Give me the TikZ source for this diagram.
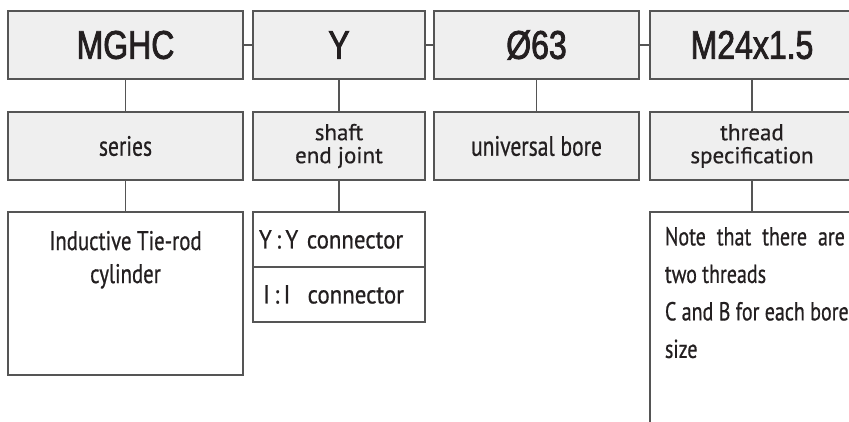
\documentclass[tikz,border=0pt]{standalone}
\usepackage{fontspec}
\setmainfont{PT Sans}[FakeBold=0.5]
\newfontfamily\codefont{Liberation Sans}[FakeStretch=0.8,FakeBold=2]
\newfontfamily\narrowfont{PT Sans}[FakeStretch=0.77,FakeBold=0.6]
\newfontfamily\optfont{PT Sans}[FakeStretch=0.88,FakeBold=0.6]
\usepackage{tikz}
\definecolor{boxgray}{RGB}{239,239,239}
\definecolor{linegray}{RGB}{85,85,85}
\definecolor{ink}{RGB}{35,31,32}

\begin{document}
\begin{tikzpicture}[x=1pt,y=-1pt,
  codebox/.style={draw=linegray,fill=boxgray,line width=1.2pt,text=ink,
    minimum height=68pt,inner sep=0pt,font=\codefont\fontsize{40}{44}\selectfont},
  namebox/.style={draw=linegray,fill=boxgray,line width=1.2pt,text=ink,
    minimum height=68pt,inner sep=0pt,align=center},
  optbox/.style={draw=linegray,fill=white,line width=1.2pt,text=ink,inner sep=0pt},
  link/.style={draw=linegray,line width=1.2pt}]
\clip (0,0) rectangle (849,422);
% code row
\node[codebox,minimum width=235pt] (mghc) at (125.5,45) {MGHC};
\node[codebox,minimum width=172pt] (yj) at (339,45) {Y};
\node[codebox,minimum width=205pt] (bore) at (536.5,45) {Ø63};
\node[codebox,minimum width=204pt] (thr) at (752,45) {M24x1.5};
% meaning row
\node[namebox,minimum width=235pt,font=\narrowfont\fontsize{28}{30}\selectfont] (series) at (125.5,146) {series};
\node[namebox,minimum width=172pt,font=\fontsize{23}{23}\selectfont] (joint) at (339,146) {shaft\\end joint};
\node[namebox,minimum width=205pt,font=\narrowfont\fontsize{28}{30}\selectfont] (ubore) at (536.5,146) {universal bore};
\node[namebox,minimum width=204pt,font=\fontsize{23}{23}\selectfont] (spec) at (752,146) {thread\\specification};
% option row
\node[optbox,minimum width=235pt,minimum height=163pt] (cyl) at (125.5,293.5) {};
\node[below=16pt,text=ink,align=center,font=\narrowfont\fontsize{27}{33}\selectfont] at (cyl.north) {Inductive Tie-rod\\cylinder};
\node[optbox,minimum height=55pt,text width=160pt,inner xsep=6pt,align=left,font=\optfont\fontsize{26}{26}\selectfont] (yy) at (339,239.5) {Y\,:\,Y connector};
\node[optbox,minimum height=55pt,text width=160pt,inner xsep=6pt,align=left,font=\optfont\fontsize{26}{26}\selectfont] (ii) at (339,294.5) {\,I\,:\,I\ \ connector};
\node[optbox,minimum width=204pt,minimum height=240pt] (note) at (752,332) {};
\node[below right=12pt,text=ink,align=left,font=\narrowfont\fontsize{26}{37.5}\selectfont] at (note.north west)
  {\makebox[180pt][s]{Note that there are}\\two threads\\C and B for each bore\\size};
% links
\draw[link] (mghc) -- (yj);
\draw[link] (yj) -- (bore);
\draw[link] (bore) -- (thr);
\draw[link] (mghc) -- (series);
\draw[link] (yj) -- (joint);
\draw[link] (bore) -- (ubore);
\draw[link] (thr) -- (spec);
\draw[link] (series) -- (cyl);
\draw[link] (joint) -- (yy);
\draw[link] (spec) -- (note);
\end{tikzpicture}
\end{document}
